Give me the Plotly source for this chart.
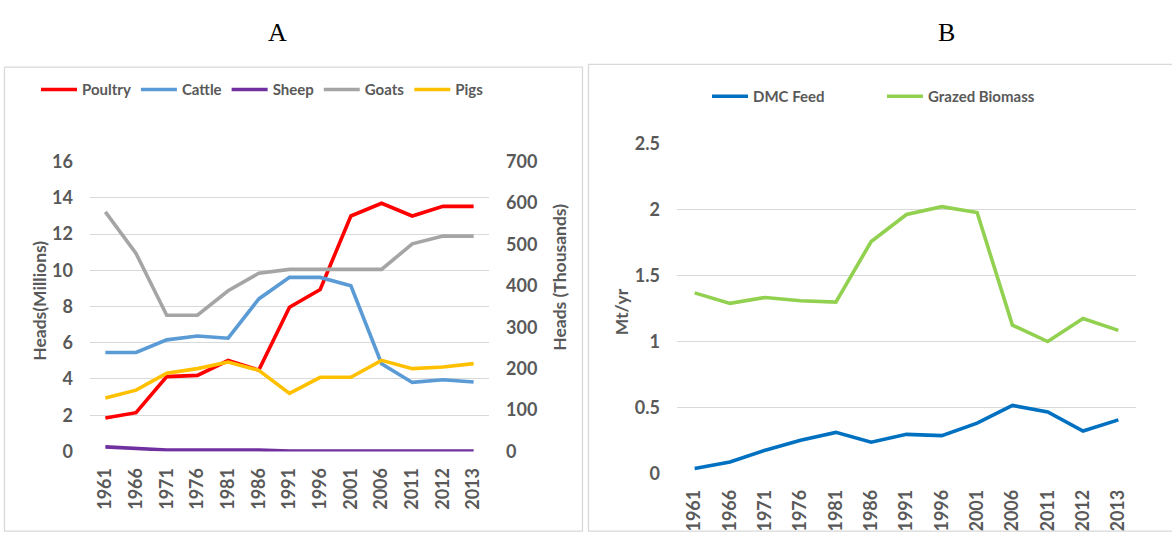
import plotly.graph_objects as go

years = ["1961", "1966", "1971", "1976", "1981", "1986", "1991", "1996",
         "2001", "2006", "2011", "2012", "2013"]

# Panel A (left axis: millions; Pigs on right axis: thousands)
poultry = [1.84, 2.14, 4.13, 4.2, 5.02, 4.49, 7.96, 8.94, 13.0, 13.7, 13.0, 13.53, 13.53]
cattle = [5.46, 5.46, 6.16, 6.37, 6.25, 8.42, 9.61, 9.61, 9.15, 4.84, 3.81, 3.96, 3.83]
sheep = [0.25, 0.16, 0.08, 0.08, 0.08, 0.08, 0.02, 0.02, 0.02, 0.02, 0.02, 0.02, 0.02]
goats = [13.23, 10.93, 7.52, 7.52, 8.87, 9.84, 10.05, 10.05, 10.05, 10.05, 11.46, 11.89, 11.89]
pigs_thousands = [129, 148, 189, 200, 216, 196, 140, 179, 179, 220, 200, 204, 212]

# Panel B
dmc_feed = [0.035, 0.085, 0.175, 0.25, 0.31, 0.235, 0.295, 0.285, 0.38, 0.515, 0.465, 0.32, 0.405]
grazed_biomass = [1.37, 1.29, 1.335, 1.31, 1.30, 1.76, 1.965, 2.025, 1.98, 1.125, 1.0, 1.175, 1.085]

W, H = 1172, 542
FONT = "Lato"
GRAY = "#595959"
GRID = "#D9D9D9"


def px_x(p):
    return p / W


def px_y(p):
    return 1 - p / H


fig = go.Figure()
lw = 3.6
fig.add_trace(go.Scatter(x=years, y=poultry, name="Poultry", mode="lines",
                         line=dict(color="#FF0000", width=lw), xaxis="x", yaxis="y", legend="legend"))
fig.add_trace(go.Scatter(x=years, y=cattle, name="Cattle", mode="lines",
                         line=dict(color="#5B9BD5", width=lw), xaxis="x", yaxis="y", legend="legend"))
fig.add_trace(go.Scatter(x=years, y=sheep, name="Sheep", mode="lines",
                         line=dict(color="#7030A0", width=lw), xaxis="x", yaxis="y", legend="legend"))
fig.add_trace(go.Scatter(x=years, y=goats, name="Goats", mode="lines",
                         line=dict(color="#A5A5A5", width=lw), xaxis="x", yaxis="y", legend="legend"))
fig.add_trace(go.Scatter(x=years, y=pigs_thousands, name="Pigs", mode="lines",
                         line=dict(color="#FFC000", width=lw), xaxis="x", yaxis="y2", legend="legend"))

fig.add_trace(go.Scatter(x=years, y=dmc_feed, name="DMC Feed", mode="lines",
                         line=dict(color="#0070C0", width=lw), xaxis="x2", yaxis="y3", legend="legend2"))
fig.add_trace(go.Scatter(x=years, y=grazed_biomass, name="Grazed Biomass", mode="lines",
                         line=dict(color="#92D050", width=lw), xaxis="x2", yaxis="y3", legend="legend2"))

tickfont = dict(family=FONT, size=18, color=GRAY, weight="bold")

xcommon = dict(type="category", range=[-0.5, 12.5], showgrid=False, showline=False,
               zeroline=False, tickangle=-90, tickfont=tickfont, ticks="",
               ticklabelstandoff=12, fixedrange=True)

legfont = dict(family=FONT, size=15, color=GRAY, weight="bold")

fig.update_layout(
    width=W, height=H,
    margin=dict(l=0, r=0, t=0, b=0),
    paper_bgcolor="white", plot_bgcolor="white",
    showlegend=True,
    xaxis=dict(domain=[px_x(90), px_x(489)], anchor="y", **xcommon),
    yaxis=dict(domain=[px_y(458), px_y(156)], anchor="x", range=[0, 16], dtick=2,
               showgrid=True, gridcolor=GRID, gridwidth=1.3, zeroline=False,
               showline=False, tickfont=tickfont, ticklabelstandoff=16),
    yaxis2=dict(overlaying="y", side="right", anchor="x", range=[0, 700], dtick=100,
                showgrid=False, zeroline=False, showline=False, tickfont=tickfont,
                ticklabelstandoff=16),
    xaxis2=dict(domain=[px_x(677), px_x(1136)], anchor="y3", **xcommon),
    yaxis3=dict(domain=[px_y(480.7), px_y(137.7)], anchor="x2", range=[0, 2.5], dtick=0.5,
                showgrid=True, gridcolor=GRID, gridwidth=1.3, zeroline=False,
                showline=False, tickfont=tickfont, ticklabelstandoff=16),
    legend=dict(orientation="h", x=px_x(36), y=px_y(81), xanchor="left", yanchor="middle",
                font=legfont, bgcolor="rgba(0,0,0,0)", itemwidth=36),
    legend2=dict(orientation="h", x=px_x(707), y=px_y(88), xanchor="left", yanchor="middle",
                 font=legfont, bgcolor="rgba(0,0,0,0)", itemwidth=36,
                 entrywidth=124, entrywidthmode="pixels"),
    shapes=[
        dict(type="rect", xref="paper", yref="paper",
             x0=px_x(4.5), x1=px_x(582.5), y0=px_y(541), y1=px_y(57.5),
             line=dict(color=GRID, width=1.3)),
        dict(type="rect", xref="paper", yref="paper",
             x0=px_x(588.5), x1=px_x(1180), y0=px_y(541), y1=px_y(54.5),
             line=dict(color=GRID, width=1.3)),
    ],
    annotations=[
        dict(text="A", x=px_x(277), y=px_y(21), xref="paper", yref="paper", showarrow=False,
             xanchor="center", yanchor="middle",
             font=dict(family="Liberation Serif", size=26, color="black")),
        dict(text="B", x=px_x(946), y=px_y(21), xref="paper", yref="paper", showarrow=False,
             xanchor="center", yanchor="middle",
             font=dict(family="Liberation Serif", size=26, color="black")),
        dict(text="Heads(Millions)", x=px_x(40), y=px_y(301), xref="paper", yref="paper",
             showarrow=False, textangle=-90, xanchor="center", yanchor="middle",
             font=dict(family=FONT, size=17.5, color=GRAY, weight="bold")),
        dict(text="Heads (Thousands)", x=px_x(560), y=px_y(277), xref="paper", yref="paper",
             showarrow=False, textangle=-90, xanchor="center", yanchor="middle",
             font=dict(family=FONT, size=17.5, color=GRAY, weight="bold")),
        dict(text="Mt/yr", x=px_x(621), y=px_y(312), xref="paper", yref="paper",
             showarrow=False, textangle=-90, xanchor="center", yanchor="middle",
             font=dict(family=FONT, size=17.5, color=GRAY, weight="bold")),
    ],
)

fig.write_html("out.html")
